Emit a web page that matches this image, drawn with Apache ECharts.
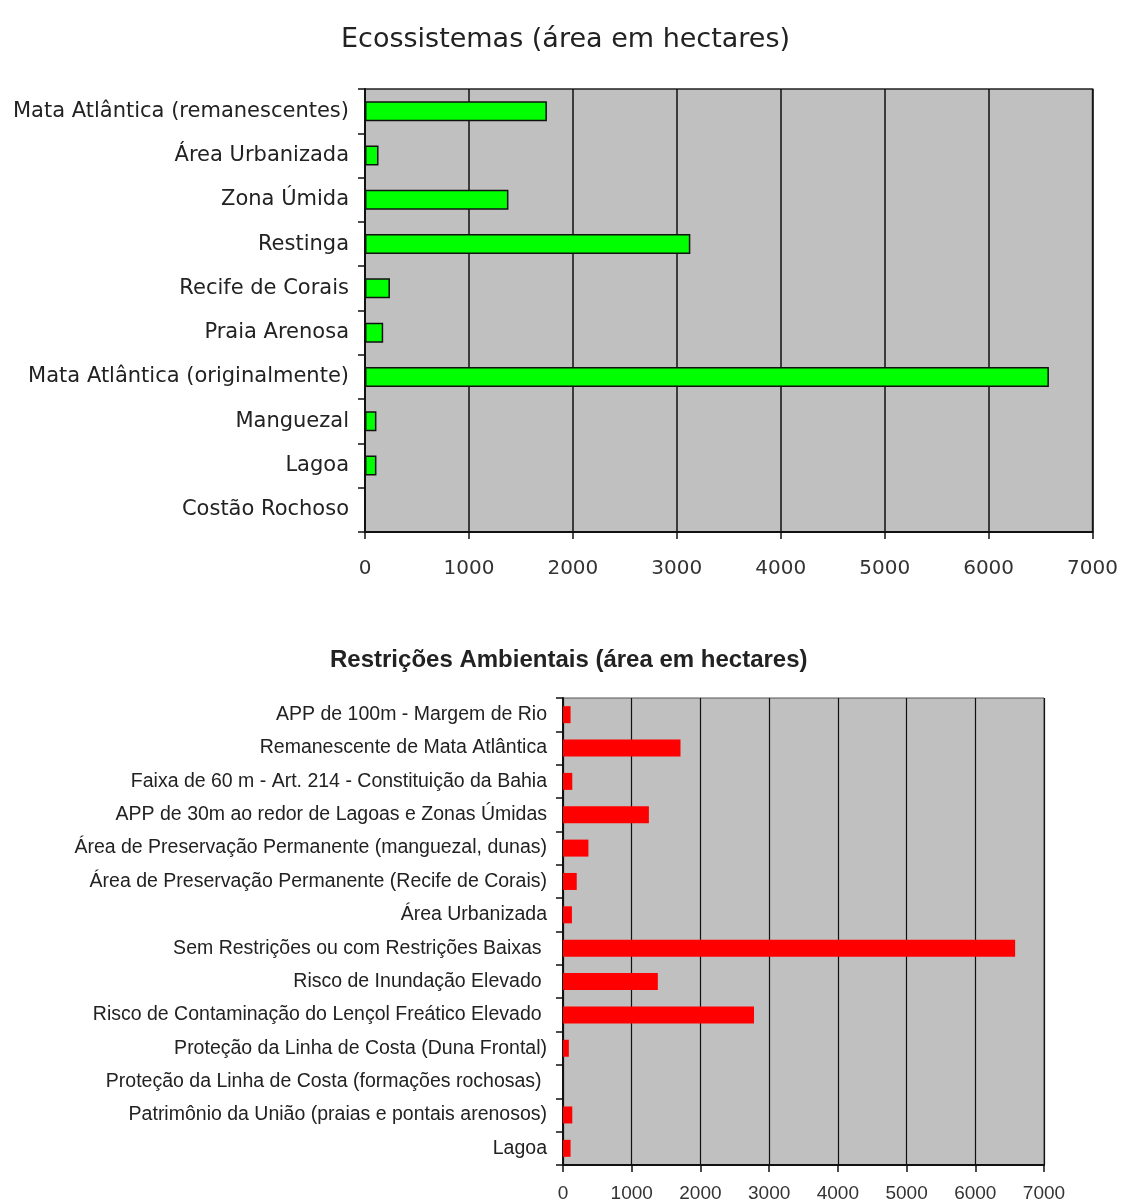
<!DOCTYPE html>
<html>
<head>
<meta charset="utf-8">
<script src="https://cdn.jsdelivr.net/npm/echarts@6/dist/echarts.min.js"></script>
<style>
html,body{margin:0;padding:0;background:#fff;}
#chart{width:1121px;height:1203px;}
</style>
</head>
<body>
<div id="chart"></div>
<script>
// Top chart: Ecossistemas (top-to-bottom order)
const ecoCategories = [
  "Mata Atlântica (remanescentes)",
  "Área Urbanizada",
  "Zona Úmida",
  "Restinga",
  "Recife de Corais",
  "Praia Arenosa",
  "Mata Atlântica (originalmente)",
  "Manguezal",
  "Lagoa",
  "Costão Rochoso"
];
const ecoValues = [1750, 130, 1380, 3130, 240, 175, 6580, 110, 110, 0];

// Bottom chart: Restrições Ambientais (top-to-bottom order)
const resCategories = [
  "APP de 100m - Margem de Rio",
  "Remanescente de Mata Atlântica",
  "Faixa de 60 m - Art. 214 - Constituição da Bahia",
  "APP de 30m ao redor de Lagoas e Zonas Úmidas",
  "Área de Preservação Permanente (manguezal, dunas)",
  "Área de Preservação Permanente (Recife de Corais)",
  "Área Urbanizada",
  "Sem Restrições ou com Restrições Baixas ",
  "Risco de Inundação Elevado ",
  "Risco de Contaminação do Lençol Freático Elevado ",
  "Proteção da Linha de Costa (Duna Frontal)",
  "Proteção da Linha de Costa (formações rochosas) ",
  "Patrimônio da União (praias e pontais arenosos)",
  "Lagoa"
];
const resValues = [110, 1710, 135, 1250, 370, 200, 130, 6580, 1380, 2780, 85, 0, 135, 110];

const xTicks = { min: 0, max: 7000, interval: 1000 };
const plain = v => String(v);

const chart = echarts.init(document.getElementById('chart'));
chart.setOption({
  backgroundColor: '#ffffff',
  animation: false,
  title: [
    { text: 'Ecossistemas (área em hectares)', left: 336, top: 21,
      textStyle: { fontFamily: 'DejaVu Sans', fontSize: 27, fontWeight: 'normal', color: '#222' } },
    { text: 'Restrições Ambientais (área em hectares)', left: 325, top: 643,
      textStyle: { fontFamily: 'Liberation Sans', fontSize: 24, fontWeight: 'bold', color: '#222' } }
  ],
  grid: [
    { left: 365, top: 89, width: 728, height: 443, show: true, backgroundColor: '#c0c0c0', borderColor: '#222', borderWidth: 1.5 },
    { left: 563, top: 698, width: 481, height: 470, show: true, backgroundColor: '#c0c0c0', borderColor: '#555', borderWidth: 1 }
  ],
  xAxis: [
    { type: 'value', gridIndex: 0, min: xTicks.min, max: xTicks.max, interval: xTicks.interval,
      axisLine: { show: true, lineStyle: { color: '#111', width: 2 } },
      axisTick: { show: true, length: 7, lineStyle: { color: '#111', width: 1.5 } },
      splitLine: { show: true, lineStyle: { color: '#111', width: 1.5 } },
      axisLabel: { margin: 27, formatter: plain, fontFamily: 'DejaVu Sans', fontSize: 20, color: '#333' } },
    { type: 'value', gridIndex: 1, min: xTicks.min, max: xTicks.max, interval: xTicks.interval,
      axisLine: { show: true, lineStyle: { color: '#111', width: 2 } },
      axisTick: { show: true, length: 7, lineStyle: { color: '#111', width: 1.5 } },
      splitLine: { show: true, lineStyle: { color: '#111', width: 1.2 } },
      axisLabel: { margin: 19, formatter: plain, fontFamily: 'Liberation Sans', fontSize: 19, color: '#333' } }
  ],
  yAxis: [
    { type: 'category', gridIndex: 0, data: ecoCategories, inverse: true,
      axisLine: { show: true, lineStyle: { color: '#111', width: 2 } },
      axisTick: { show: true, length: 7, lineStyle: { color: '#111', width: 1.5 } },
      axisLabel: { margin: 16, fontFamily: 'DejaVu Sans', fontSize: 21, color: '#222' } },
    { type: 'category', gridIndex: 1, data: resCategories, inverse: true,
      axisLine: { show: true, lineStyle: { color: '#111', width: 2 } },
      axisTick: { show: true, length: 7, lineStyle: { color: '#111', width: 1.5 } },
      axisLabel: { margin: 16, fontFamily: 'Liberation Sans', fontSize: 19.5, color: '#222' } }
  ],
  series: [
    { type: 'bar', xAxisIndex: 0, yAxisIndex: 0, data: ecoValues, barWidth: 20,
      itemStyle: { color: '#00ff00', borderColor: '#111', borderWidth: 1.5 } },
    { type: 'bar', xAxisIndex: 1, yAxisIndex: 1, data: resValues, barWidth: 17,
      itemStyle: { color: '#ff0000' } }
  ]
});
</script>
</body>
</html>
